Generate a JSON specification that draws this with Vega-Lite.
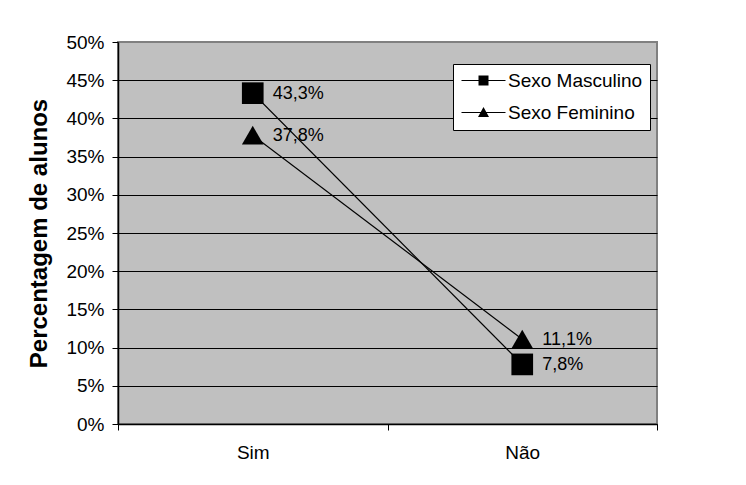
{
  "$schema": "https://vega.github.io/schema/vega-lite/v6.json",
  "width": 539,
  "height": 382,
  "autosize": "none",
  "padding": {"left": 118, "top": 42, "right": 89, "bottom": 61},
  "background": "white",
  "config": {
    "locale": {"number": {"decimal": ",", "thousands": ".", "grouping": [3], "currency": ["", " €"]}},
    "font": "Liberation Sans",
    "view": {"fill": "#C0C0C0", "stroke": "#808080", "strokeWidth": 2},
    "axis": {
      "labelFont": "Liberation Sans",
      "labelFontSize": 19,
      "labelColor": "black",
      "domainColor": "black",
      "domainWidth": 1.5,
      "tickColor": "black",
      "tickSize": 6,
      "tickWidth": 1
    }
  },
  "data": {
    "values": [
      {"resposta": "Sim", "sexo": "Sexo Masculino", "percentagem": 0.433},
      {"resposta": "Não", "sexo": "Sexo Masculino", "percentagem": 0.078},
      {"resposta": "Sim", "sexo": "Sexo Feminino", "percentagem": 0.378},
      {"resposta": "Não", "sexo": "Sexo Feminino", "percentagem": 0.111}
    ]
  },
  "encoding": {
    "x": {
      "field": "resposta",
      "type": "nominal",
      "sort": ["Sim", "Não"],
      "scale": {"paddingInner": 0, "paddingOuter": 0},
      "axis": {"title": null, "labelAngle": 0, "tickBand": "extent", "labelPadding": 13, "grid": false}
    },
    "y": {
      "field": "percentagem",
      "type": "quantitative",
      "scale": {"domain": [0, 0.5], "nice": false},
      "axis": {
        "values": [0, 0.05, 0.1, 0.15, 0.2, 0.25, 0.3, 0.35, 0.4, 0.45, 0.5],
        "format": ".0%",
        "title": "Percentagem de alunos",
        "titleFont": "Liberation Sans",
        "titleFontSize": 24,
        "titleFontWeight": "bold",
        "titleColor": "black",
        "titlePadding": 14,
        "labelPadding": 8,
        "grid": true,
        "gridColor": {"condition": {"test": "datum.value >= 0.5", "value": "#808080"}, "value": "black"},
        "gridWidth": 1
      }
    }
  },
  "layer": [
    {
      "mark": {"type": "line", "color": "black", "strokeWidth": 1.2},
      "encoding": {"detail": {"field": "sexo", "type": "nominal"}}
    },
    {
      "mark": {"type": "point", "filled": true, "color": "black", "opacity": 1, "size": 470},
      "encoding": {
        "shape": {
          "field": "sexo",
          "type": "nominal",
          "scale": {"domain": ["Sexo Masculino", "Sexo Feminino"], "range": ["square", "triangle-up"]},
          "legend": null
        }
      }
    },
    {
      "mark": {"type": "point", "filled": true, "color": "black", "opacity": 0, "size": 100},
      "encoding": {
        "shape": {
          "field": "sexo",
          "type": "nominal",
          "scale": {
            "domain": ["Sexo Masculino", "Sexo Feminino"],
            "range": [
              "M-4.4,-0.1L4.4,-0.1L4.4,0.1L-4.4,0.1ZM-1,-1L1,-1L1,1L-1,1Z",
              "M-4.4,-0.1L4.4,-0.1L4.4,0.1L-4.4,0.1ZM0,-1.1L1.1,0.9L-1.1,0.9Z"
            ]
          },
          "legend": {
            "title": null,
            "orient": "none",
            "legendX": 335,
            "legendY": 22,
            "padding": 7,
            "strokeColor": "black",
            "fillColor": "white",
            "rowPadding": 12,
            "symbolSize": 100,
            "symbolOffset": 14,
            "labelOffset": 15,
            "labelFont": "Liberation Sans",
            "labelFontSize": 19,
            "labelColor": "black",
            "symbolFillColor": "black",
            "symbolStrokeWidth": 0,
            "symbolOpacity": 1
          }
        }
      }
    },
    {
      "mark": {"type": "text", "align": "left", "baseline": "middle", "dx": 20, "dy": 1, "fontSize": 18, "font": "Liberation Sans", "color": "black"},
      "encoding": {"text": {"field": "percentagem", "type": "quantitative", "format": ".1%"}}
    }
  ],
  "resolve": {"scale": {"shape": "independent"}, "legend": {"shape": "independent"}}
}
